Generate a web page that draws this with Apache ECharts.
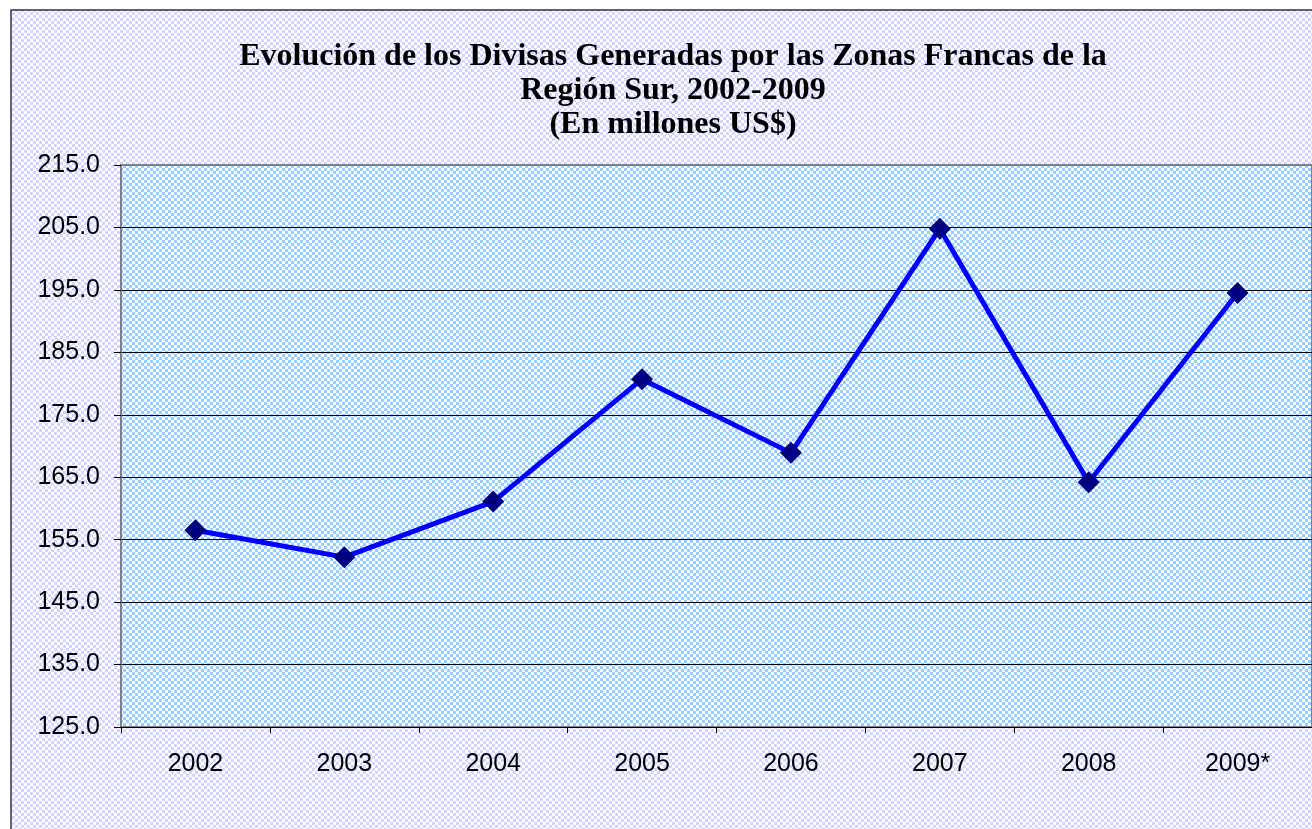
<!DOCTYPE html>
<html>
<head>
<meta charset="utf-8">
<script src="https://cdn.jsdelivr.net/npm/echarts@6/dist/echarts.min.js"></script>
<style>
  html, body { margin: 0; padding: 0; background: #fff; }
  #chart { width: 1312px; height: 829px; }
</style>
</head>
<body>
<div id="chart"></div>
<script>
// datos
const years = ['2002', '2003', '2004', '2005', '2006', '2007', '2008', '2009*'];
const divisas = [156.5, 152.2, 161.1, 180.7, 168.9, 204.8, 164.2, 194.5];
const titleLines = [
  'Evolución de los Divisas Generadas por las Zonas Francas de la',
  'Región Sur, 2002-2009',
  '(En millones US$)'
];

// patron de cuadritos (relleno tipo Excel)
function checker(bg, fg) {
  let cv = document.createElement('canvas');
  cv.width = 6; cv.height = 6;
  let ctx = cv.getContext('2d');
  ctx.fillStyle = bg;
  ctx.fillRect(0, 0, 6, 6);
  ctx.fillStyle = fg;
  ctx.fillRect(0, 0, 3, 3);
  ctx.fillRect(3, 3, 3, 3);
  return {image: cv, repeat: 'repeat'};
}

let myChart = echarts.init(document.getElementById('chart'));
myChart.setOption({
  backgroundColor: '#fff',
  animation: false,
  title: {
    text: titleLines.join('\n'),
    left: 668,
    textAlign: 'center',
    top: 35,
    textStyle: {
      fontFamily: 'Liberation Serif',
      fontWeight: 'bold',
      fontSize: 32,
      lineHeight: 34,
      color: '#000'
    }
  },
  graphic: [{
    type: 'rect',
    z: -10,
    silent: true,
    shape: {x: 11, y: 10, width: 1320, height: 840},
    style: {fill: checker('#ffffff', '#d4d4ff'), stroke: '#333', lineWidth: 1.5}
  }],
  grid: {
    left: 121,
    top: 165,
    width: 1194,
    height: 562,
    show: true,
    backgroundColor: checker('#ffffff', '#99ccff'),
    borderColor: '#808080',
    borderWidth: 2
  },
  xAxis: {
    type: 'category',
    data: years,
    boundaryGap: true,
    axisLine: {lineStyle: {color: '#000', width: 1}},
    axisTick: {show: true, length: 6, lineStyle: {color: '#000'}},
    axisLabel: {
      color: '#000',
      fontFamily: 'Liberation Sans',
      fontSize: 25,
      margin: 25
    }
  },
  yAxis: {
    type: 'value',
    min: 125,
    max: 215,
    interval: 10,
    axisLine: {show: true, lineStyle: {color: '#808080', width: 2}},
    axisTick: {show: true, length: 7, lineStyle: {color: '#000'}},
    axisLabel: {
      color: '#000',
      fontFamily: 'Liberation Sans',
      fontSize: 25,
      margin: 21,
      formatter: v => v.toFixed(1)
    },
    splitLine: {showMaxLine: false, lineStyle: {color: '#000', width: 1}}
  },
  series: [{
    type: 'line',
    data: divisas,
    symbol: 'diamond',
    symbolSize: 22,
    lineStyle: {color: '#0000ff', width: 5},
    itemStyle: {color: '#000080'},
    z: 5
  }]
});
</script>
</body>
</html>
